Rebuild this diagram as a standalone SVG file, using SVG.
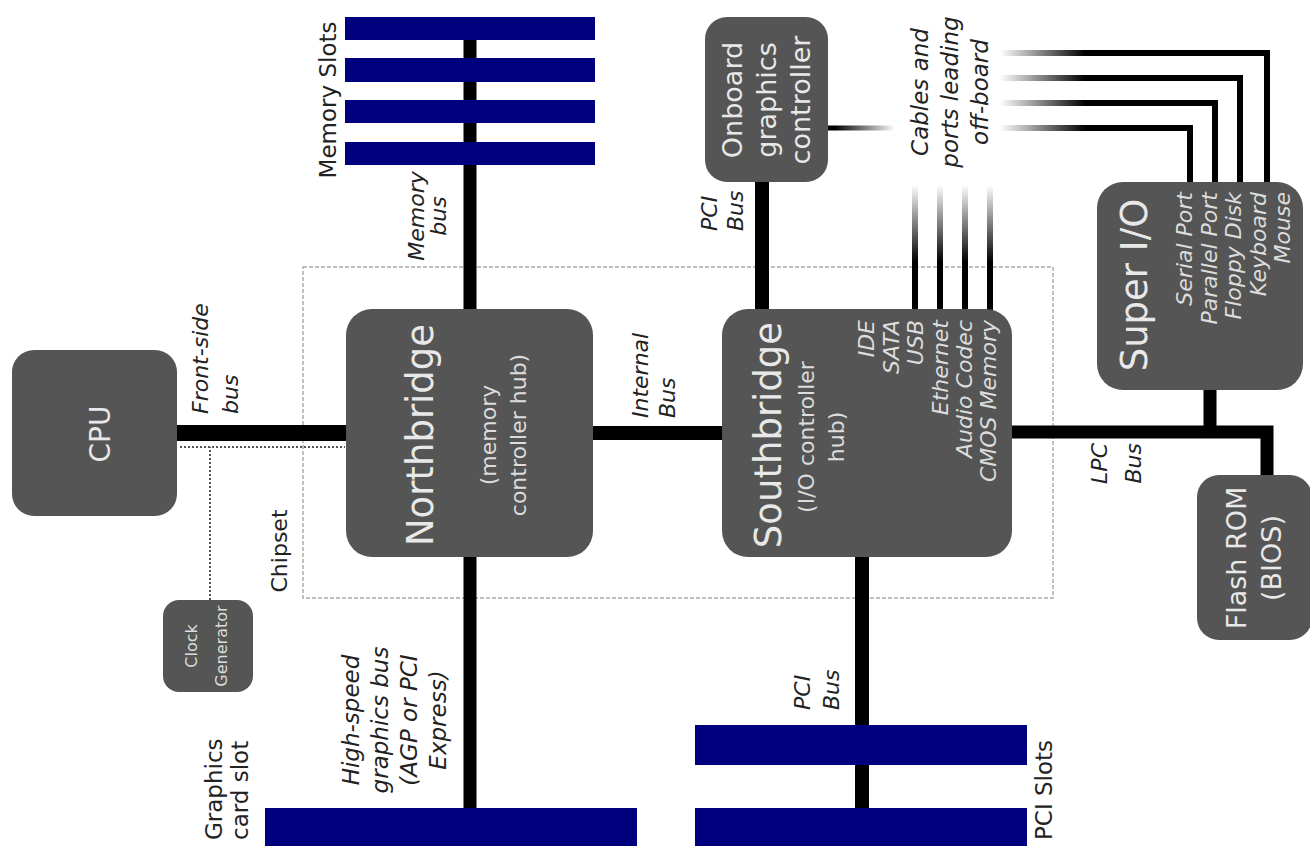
<svg xmlns="http://www.w3.org/2000/svg" width="1310" height="846" viewBox="0 0 1310 846">
<style>
.box{fill:#555555;}
.slot{fill:#00007f;}
.bus{stroke:#000;fill:none;stroke-linecap:butt;}
.t{font-family:"DejaVu Sans",sans-serif;}
.big{fill:#e8e8e8;}
.sm{fill:#dcdcdc;}
.lab{fill:#222;}
.it{font-style:italic;}
</style>
<defs>
<linearGradient id="gSB" gradientUnits="userSpaceOnUse" x1="0" y1="185" x2="0" y2="262">
<stop offset="0" stop-color="#000" stop-opacity="0"/><stop offset="1" stop-color="#000" stop-opacity="1"/>
</linearGradient>
<linearGradient id="gIO" gradientUnits="userSpaceOnUse" x1="1000" y1="0" x2="1085" y2="0">
<stop offset="0" stop-color="#000" stop-opacity="0"/><stop offset="1" stop-color="#000" stop-opacity="1"/>
</linearGradient>
<linearGradient id="gOnb" gradientUnits="userSpaceOnUse" x1="835" y1="0" x2="895" y2="0">
<stop offset="0" stop-color="#000" stop-opacity="1"/><stop offset="1" stop-color="#000" stop-opacity="0"/>
</linearGradient>
</defs>
<rect width="1310" height="846" fill="#fff"/>

<g id="chipset">
<rect x="303" y="267" width="750" height="331" fill="none" stroke="#aaa" stroke-width="1.5" stroke-dasharray="4 2"/>
<text class="t lab" font-size="22" text-anchor="middle" transform="translate(287,551) rotate(-90)">Chipset</text>
</g>

<g id="connectors">
<path class="bus" stroke-width="16" d="M177 433 H347"/>
<path d="M210 600 V447 M180 447 H345" fill="none" stroke="#555" stroke-width="2" stroke-dasharray="2 2"/>
<path class="bus" stroke-width="13" d="M470 28 V310"/>
<path class="bus" stroke-width="14" d="M593 433 H722"/>
<path class="bus" stroke-width="13" d="M470 557 V810"/>
<path class="bus" stroke-width="14" d="M762 182 V310"/>
<path class="bus" stroke-width="14" d="M862 557 V846"/>
<path class="bus" stroke-width="13" d="M1012 432 H1267 V477 M1210 390 V432"/>
<path fill="none" stroke="url(#gSB)" stroke-width="6" d="M915 185 V310 M940 185 V310 M965 185 V310 M990 185 V310"/>
<path fill="none" stroke="url(#gOnb)" stroke-width="5" d="M828 128 H895"/>
<path fill="none" stroke="url(#gIO)" stroke-width="6" d="M1190 184 V128 H1000 M1215 184 V103 H1000 M1240 184 V78 H1000 M1267 184 V53 H1000"/>
<g class="t lab it" font-size="22">
<text transform="translate(0,414) rotate(-90)"><tspan x="0" y="208">Front-side</tspan><tspan x="0" y="238">bus</tspan></text>
<text text-anchor="middle" transform="translate(0,216) rotate(-90)"><tspan x="0" y="424">Memory</tspan><tspan x="0" y="446">bus</tspan></text>
<text transform="translate(0,418) rotate(-90)"><tspan x="0" y="648">Internal</tspan><tspan x="0" y="675">Bus</tspan></text>
<text transform="translate(0,231) rotate(-90)"><tspan x="0" y="717">PCI</tspan><tspan x="0" y="743">Bus</tspan></text>
<text transform="translate(0,710) rotate(-90)"><tspan x="0" y="810">PCI</tspan><tspan x="0" y="839">Bus</tspan></text>
<text text-anchor="end" transform="translate(0,443) rotate(-90)"><tspan x="0" y="1107">LPC</tspan><tspan x="0" y="1141">Bus</tspan></text>
<text font-size="23" text-anchor="middle" transform="translate(0,720) rotate(-90)"><tspan x="0" y="359">High-speed</tspan><tspan x="0" y="388">graphics bus</tspan><tspan x="0" y="417">(AGP or PCI</tspan><tspan x="0" y="446">Express)</tspan></text>
<text font-size="23" text-anchor="middle" transform="translate(0,92) rotate(-90)"><tspan x="0" y="928">Cables and</tspan><tspan x="0" y="958">ports leading</tspan><tspan x="0" y="988">off-board</tspan></text>
</g>
</g>

<g id="memory-slots">
<rect class="slot" x="345" y="17" width="250" height="23"/>
<rect class="slot" x="345" y="58" width="250" height="24"/>
<rect class="slot" x="345" y="100" width="250" height="23"/>
<rect class="slot" x="345" y="142" width="250" height="23"/>
<text class="t lab" font-size="23" text-anchor="middle" transform="translate(336,100) rotate(-90)">Memory Slots</text>
</g>

<g id="graphics-slot">
<rect class="slot" x="265" y="808" width="372" height="45"/>
<text class="t lab" font-size="23" transform="translate(0,840) rotate(-90)"><tspan x="0" y="222">Graphics</tspan><tspan x="0" y="248">card slot</tspan></text>
</g>

<g id="pci-slots">
<rect class="slot" x="695" y="725" width="332" height="40"/>
<rect class="slot" x="695" y="808" width="332" height="45"/>
<text class="t lab" font-size="23" transform="translate(1052,840) rotate(-90)">PCI Slots</text>
</g>

<g id="cpu">
<rect class="box" x="12" y="350" width="165" height="166" rx="22"/>
<text class="t big" font-size="28" text-anchor="middle" transform="translate(110,434) rotate(-90)">CPU</text>
</g>

<g id="clock-generator">
<rect class="box" x="163" y="600" width="90" height="92" rx="16"/>
<text class="t sm" font-size="16" text-anchor="middle" transform="translate(0,646) rotate(-90)"><tspan x="0" y="197">Clock</tspan><tspan x="0" y="227">Generator</tspan></text>
</g>

<g id="northbridge">
<rect class="box" x="346" y="309" width="247" height="248" rx="26"/>
<text class="t big" font-size="37" text-anchor="middle" transform="translate(433,435) rotate(-90)">Northbridge</text>
<text class="t sm" font-size="22" text-anchor="middle" transform="translate(0,435) rotate(-90)"><tspan x="0" y="496">(memory</tspan><tspan x="0" y="526">controller hub)</tspan></text>
</g>

<g id="southbridge">
<rect class="box" x="722" y="309" width="290" height="248" rx="26"/>
<text class="t big" font-size="37" text-anchor="middle" transform="translate(781,435) rotate(-90)">Southbridge</text>
<text class="t sm" font-size="22" text-anchor="middle" transform="translate(0,437) rotate(-90)"><tspan x="0" y="814">(I/O controller</tspan><tspan x="0" y="844">hub)</tspan></text>
<text class="t sm it" font-size="22" text-anchor="end" transform="translate(0,320) rotate(-90)"><tspan x="0" y="874">IDE</tspan><tspan x="0" y="899">SATA</tspan><tspan x="0" y="923">USB</tspan><tspan x="0" y="948">Ethernet</tspan><tspan x="0" y="972">Audio Codec</tspan><tspan x="0" y="996">CMOS Memory</tspan></text>
</g>

<g id="onboard-graphics">
<rect class="box" x="705" y="17" width="123" height="165" rx="22"/>
<text class="t big" font-size="27" text-anchor="middle" transform="translate(0,100) rotate(-90)"><tspan x="0" y="742">Onboard</tspan><tspan x="0" y="776">graphics</tspan><tspan x="0" y="810">controller</tspan></text>
</g>

<g id="super-io">
<rect class="box" x="1097" y="182" width="206" height="208" rx="26"/>
<text class="t big" font-size="37" text-anchor="middle" transform="translate(1147,285) rotate(-90)">Super I/O</text>
<text class="t sm it" font-size="22" text-anchor="end" transform="translate(0,192) rotate(-90)"><tspan x="0" y="1192">Serial Port</tspan><tspan x="0" y="1217">Parallel Port</tspan><tspan x="0" y="1241">Floppy Disk</tspan><tspan x="0" y="1266">Keyboard</tspan><tspan x="0" y="1290">Mouse</tspan></text>
</g>

<g id="flash-rom">
<rect class="box" x="1197" y="475" width="115" height="165" rx="22"/>
<text class="t big" font-size="27" text-anchor="middle" transform="translate(0,558) rotate(-90)"><tspan x="0" y="1246">Flash ROM</tspan><tspan x="0" y="1281">(BIOS)</tspan></text>
</g>
</svg>
